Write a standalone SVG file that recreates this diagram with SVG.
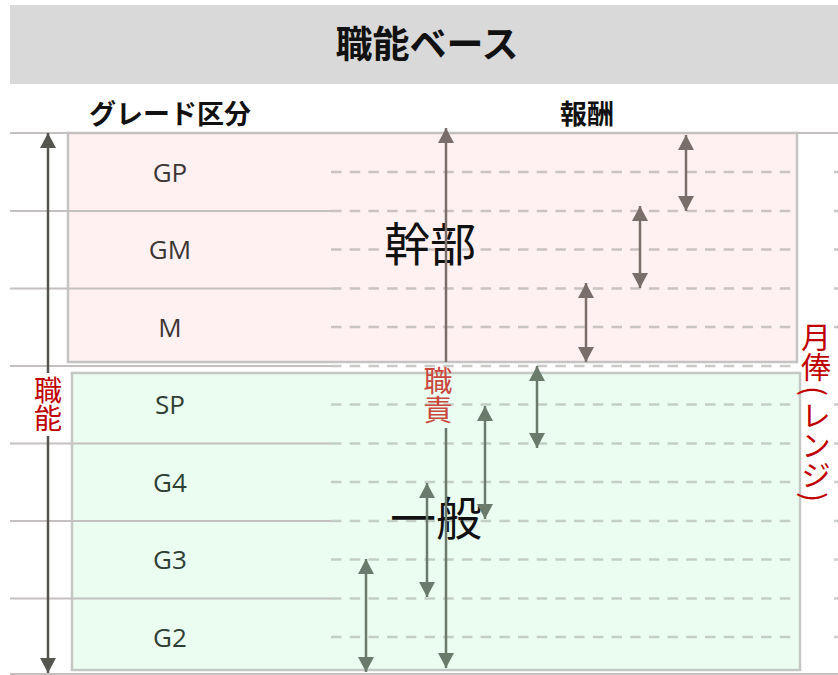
<svg xmlns="http://www.w3.org/2000/svg" width="838" height="675" viewBox="0 0 838 675">
<style>
.jp{font-family:"Noto Sans CJK JP","Noto Sans",sans-serif}
.title{font-size:37px;font-weight:bold;fill:#111}
.head{font-size:27px;font-weight:bold;fill:#111}
.grade{font-family:"Open Sans",Lato,sans-serif;font-size:26px}
.gp{fill:#3d3535}
.gg{fill:#2e3f35}
.big{font-size:46px;fill:#111}
.red{fill:#c00000}
.red2{fill:#c9473c}
.vert{writing-mode:vertical-rl}
.solid{stroke:#c4c0c0;stroke-width:2;fill:none}
.dash{stroke:#a8a4a4;stroke-opacity:0.6;stroke-width:2.5;stroke-dasharray:10.5 8.2;fill:none}
.dashg{stroke:#a8b0aa;stroke-opacity:0.6;stroke-width:2.5;stroke-dasharray:10.5 8.2;fill:none}
.ab{stroke:#7a6e6a;stroke-width:2.5;fill:none}
.ag{stroke:#6b7b6b;stroke-width:2.5;fill:none}
.ad{stroke:#55554f;stroke-width:2.5;fill:none}
</style>
<defs>
<marker id="mb" markerUnits="userSpaceOnUse" markerWidth="16" markerHeight="16" refX="15" refY="8" orient="auto-start-reverse"><path d="M0,0 L15,8 L0,16 z" fill="#7a6e6a"/></marker>
<marker id="mg" markerUnits="userSpaceOnUse" markerWidth="16" markerHeight="16" refX="15" refY="8" orient="auto-start-reverse"><path d="M0,0 L15,8 L0,16 z" fill="#6b7b6b"/></marker>
<marker id="md" markerUnits="userSpaceOnUse" markerWidth="16" markerHeight="16" refX="15" refY="8" orient="auto-start-reverse"><path d="M0,0 L15,8 L0,16 z" fill="#55554f"/></marker>
</defs>
<rect width="838" height="675" fill="#fff"/>
<g id="title">
<rect x="10" y="5" width="828" height="79" fill="#d9d9d9"/>
<text class="jp title" x="427" y="58" text-anchor="middle">職能ベース</text>
</g>
<g id="headers">
<text class="jp head" x="170" y="124" text-anchor="middle">グレード区分</text>
<text class="jp head" x="587" y="124" text-anchor="middle">報酬</text>
</g>
<g id="kanbu">
<rect x="68" y="133" width="729" height="229" fill="#fff1f1" stroke="#c4c4c4" stroke-width="2.5"/>
</g>
<g id="ippan">
<rect x="72" y="373" width="728" height="297" fill="#ebfdf1" stroke="#c4c8c4" stroke-width="2.5"/>
</g>
<g id="grid">
<path class="solid" d="M10,133H838 M10,211H331 M10,288.5H331 M10,366H331 M10,443.5H331 M10,521H331 M10,598.5H331 M10,674H838"/>
<path class="dash" d="M331,172H792 M331,211H792 M331,249.5H792 M331,288.5H792 M331,327H792 M331,366H792 M834,172H838 M834,211H838 M834,249.5H838 M834,288.5H838 M834,327H838"/>
<path class="dashg" d="M331,404.5H792 M331,443.5H792 M331,482H792 M331,521H792 M331,559.5H792 M331,598.5H792 M331,637H792 M834,404.5H838 M834,443.5H838 M834,482H838 M834,521H838 M834,559.5H838 M834,598.5H838 M834,637H838"/>
</g>
<g id="grade-GP"><text class="grade gp" x="170" y="181.5" text-anchor="middle">GP</text></g>
<g id="grade-GM"><text class="grade gp" x="170" y="259" text-anchor="middle">GM</text></g>
<g id="grade-M"><text class="grade gp" x="170" y="336.5" text-anchor="middle">M</text></g>
<g id="grade-SP"><text class="grade gg" x="170" y="414" text-anchor="middle">SP</text></g>
<g id="grade-G4"><text class="grade gg" x="170" y="491.5" text-anchor="middle">G4</text></g>
<g id="grade-G3"><text class="grade gg" x="170" y="569" text-anchor="middle">G3</text></g>
<g id="grade-G2"><text class="grade gg" x="170" y="646.5" text-anchor="middle">G2</text></g>
<g id="label-kanbu"><text class="jp big" x="430" y="261" text-anchor="middle">幹部</text></g>
<g id="label-ippan"><text class="jp big" x="436" y="535" text-anchor="middle">一般</text></g>
<g id="connectors">
<line class="ad" x1="48" y1="133" x2="48" y2="673" marker-start="url(#md)" marker-end="url(#md)"/>
<line class="ab" x1="446" y1="128" x2="446" y2="362" marker-start="url(#mb)"/>
<line class="ag" x1="446" y1="428" x2="446" y2="668" marker-end="url(#mg)"/>
<line class="ab" x1="686" y1="135" x2="686" y2="211" marker-start="url(#mb)" marker-end="url(#mb)"/>
<line class="ab" x1="640" y1="206" x2="640" y2="288" marker-start="url(#mb)" marker-end="url(#mb)"/>
<line class="ab" x1="586" y1="283" x2="586" y2="362" marker-start="url(#mb)" marker-end="url(#mb)"/>
<line class="ag" x1="537" y1="366" x2="537" y2="448" marker-start="url(#mg)" marker-end="url(#mg)"/>
<line class="ag" x1="485" y1="406" x2="485" y2="519" marker-start="url(#mg)" marker-end="url(#mg)"/>
<line class="ag" x1="427" y1="483" x2="427" y2="597" marker-start="url(#mg)" marker-end="url(#mg)"/>
<line class="ag" x1="366" y1="559" x2="366" y2="672" marker-start="url(#mg)" marker-end="url(#mg)"/>
</g>
<g id="label-shokunou">
<rect x="33" y="373" width="31" height="63" fill="#fff"/>
<text class="jp red vert" font-size="28" x="48" y="376">職能</text>
</g>
<g id="label-shokuseki">
<text class="jp red2 vert" font-size="29" x="438" y="366">職責</text>
</g>
<g id="label-geppou">
<text class="jp red vert" font-size="30" x="816" y="322">月俸</text>
<text class="jp red" font-size="30" x="816" y="391" text-anchor="middle" dominant-baseline="central" transform="rotate(90 816 391)">(</text>
<text class="jp red vert" font-size="30" x="816" y="400">レンジ</text>
<text class="jp red" font-size="30" x="816" y="497" text-anchor="middle" dominant-baseline="central" transform="rotate(90 816 497)">)</text>
</g>
</svg>
